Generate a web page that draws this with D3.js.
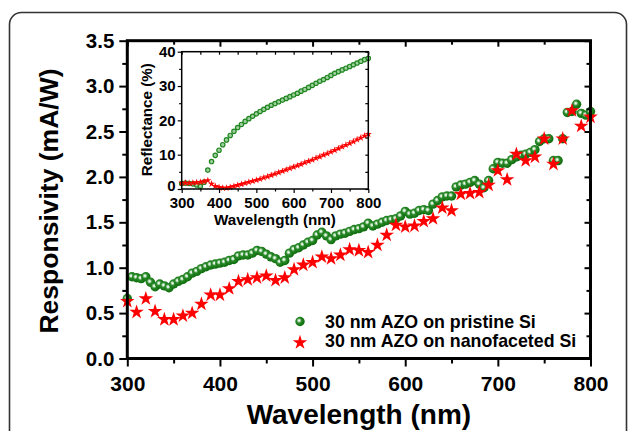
<!DOCTYPE html>
<html><head><meta charset="utf-8">
<script src="https://cdn.jsdelivr.net/npm/d3@7/dist/d3.min.js"></script>
<style>
html,body{margin:0;padding:0;background:#fff;}
svg{display:block;font-family:"Liberation Sans",Arial,sans-serif;font-weight:bold;}
</style></head><body>
<svg id="c" width="629" height="431"></svg>
<script>
// ---- main chart data ----
const pristineX = [300,305,310,315,320,325,330,335,340,345,350,355,360,365,370,375,380,385,390,395,400,405,410,415,420,425,430,435,440,445,450,455,460,465,470,475,480,485,490,495,500,505,510,515,520,525,530,535,540,545,550,555,560,565,570,575,580,585,590,595,600,605,610,615,620,625,630,635,640,645,650,655,660,665,670,675,680,685,690,695,700,705,710,715,720,725,730,735,740,745,750,755,760,765,770,775,780,785,790,795,800];
const pristineY = [0.66,0.90,0.89,0.88,0.90,0.84,0.79,0.82,0.80,0.78,0.82,0.85,0.87,0.90,0.94,0.96,0.99,1.01,1.03,1.04,1.05,1.06,1.08,1.09,1.13,1.14,1.14,1.16,1.19,1.18,1.15,1.12,1.10,1.06,1.08,1.16,1.20,1.22,1.25,1.28,1.30,1.36,1.39,1.35,1.31,1.35,1.37,1.38,1.40,1.42,1.43,1.45,1.49,1.46,1.48,1.50,1.52,1.53,1.54,1.57,1.62,1.59,1.60,1.63,1.64,1.63,1.70,1.74,1.78,1.79,1.79,1.89,1.91,1.92,1.94,1.96,1.92,1.88,1.96,2.09,2.16,2.15,2.15,2.19,2.22,2.24,2.25,2.27,2.30,2.39,2.42,2.42,2.18,2.18,2.42,2.71,2.72,2.80,2.70,2.68,2.72];
const facetX = [300,310,320,330,340,350,360,370,380,390,400,410,420,430,440,450,460,470,480,490,500,510,520,530,540,550,560,570,580,590,600,610,620,630,640,650,660,670,680,690,700,710,720,730,740,750,760,770,780,790,800];
const facetY = [0.63,0.51,0.66,0.52,0.43,0.43,0.47,0.50,0.60,0.70,0.70,0.77,0.85,0.87,0.89,0.91,0.86,0.89,0.98,1.03,1.06,1.12,1.10,1.14,1.20,1.19,1.17,1.25,1.36,1.47,1.45,1.46,1.51,1.54,1.66,1.63,1.81,1.82,1.83,1.91,2.07,1.97,2.25,2.18,2.22,2.42,2.14,2.42,2.73,2.56,2.66];
const seriesNames = ["30 nm AZO on pristine Si","30 nm AZO on nanofaceted Si"];
const xTicks = [300,400,500,600,700,800];
const yTicks = [0,0.5,1,1.5,2,2.5,3,3.5];
// ---- inset data (reflectance) ----
const insetX = [300,310,320,330,340,350,360,370,380,390,400,410,420,430,440,450,460,470,480,490,500,510,520,530,540,550,560,570,580,590,600,610,620,630,640,650,660,670,680,690,700,710,720,730,740,750,760,770,780,790,800];
const reflPristine = [1.6,1.7,1.6,1.5,1.2,0.8,2.0,5.5,8.0,9.8,11.3,12.9,14.3,15.6,16.8,17.9,18.8,19.7,20.5,21.2,21.9,22.6,23.2,23.8,24.4,24.9,25.4,25.9,26.4,26.9,27.4,27.9,28.5,29.0,29.6,30.2,30.8,31.4,31.9,32.5,33.1,33.7,34.2,34.7,35.2,35.7,36.2,36.7,37.2,37.7,38.1];
const reflFacet = [1.8,1.8,1.7,1.8,1.9,2.0,2.2,2.5,1.5,0.8,0.5,0.3,0.3,0.5,0.8,1.1,1.4,1.7,2.0,2.3,2.6,2.9,3.3,3.6,4.0,4.4,4.8,5.2,5.6,6.0,6.4,6.8,7.2,7.7,8.1,8.5,9.0,9.4,9.9,10.3,10.8,11.3,11.8,12.3,12.8,13.3,13.8,14.4,14.9,15.5,16.0];
const insetXTicks = [300,400,500,600,700,800];
const insetYTicks = [0,10,20,30,40];

const svg = d3.select("#c");
const defs = svg.append("defs");
const grad = defs.append("radialGradient").attr("id","ball").attr("cx","40%").attr("cy","40%").attr("r","62%");
grad.append("stop").attr("offset","0%").attr("stop-color","#ffffff");
grad.append("stop").attr("offset","16%").attr("stop-color","#cfeacf");
grad.append("stop").attr("offset","42%").attr("stop-color","#2a8a2a");
grad.append("stop").attr("offset","100%").attr("stop-color","#0a6a0a");

// outer rounded frame
svg.append("rect").attr("x",9.5).attr("y",12.5).attr("width",617).attr("height",460).attr("rx",12)
  .attr("fill","none").attr("stroke","#333").attr("stroke-width",1.6);

const x = d3.scaleLinear().domain([300,800]).range([127.3,590.5]);
const y = d3.scaleLinear().domain([0,3.5]).range([358.5,40.7]);

const g = svg.append("g");
g.append("g").selectAll("circle").data(pristineX.map((v,i)=>[v,pristineY[i]])).join("circle")
  .attr("cx",d=>x(d[0])).attr("cy",d=>y(d[1])).attr("r",4.7).attr("fill","url(#ball)");
const star = d3.symbol().type(d3.symbolStar).size(66);
g.append("g").selectAll("path").data(facetX.map((v,i)=>[v,facetY[i]])).join("path")
  .attr("d",star).attr("transform",d=>`translate(${x(d[0])},${y(d[1])})`).attr("fill","#ff0000");

function styleAxis(sel, fs){
  sel.select(".domain").remove();
  sel.selectAll(".tick line").attr("stroke","#000").attr("stroke-width",2);
  sel.selectAll("text").attr("font-size",fs).attr("font-weight","bold").attr("fill","#000")
     .attr("font-family","Liberation Sans, Arial, sans-serif");
}
const minorX = d3.range(350,800,100);
const minorY = d3.range(0.25,3.5,0.5);
const ax = svg.append("g").attr("transform","translate(0,358.5)")
  .call(d3.axisBottom(x).tickValues(xTicks).tickFormat(d3.format("d")).tickSize(8).tickSizeOuter(0).tickPadding(10));
styleAxis(ax,21);
svg.append("g").attr("transform","translate(0,358.5)").call(d3.axisBottom(x).tickValues(minorX).tickFormat("").tickSize(5).tickSizeOuter(0)).call(s=>styleAxis(s,0));
const ay = svg.append("g").attr("transform","translate(127.3,0)")
  .call(d3.axisLeft(y).tickValues(yTicks).tickFormat(d3.format(".1f")).tickSize(8).tickSizeOuter(0).tickPadding(5));
styleAxis(ay,20.5);
svg.append("g").attr("transform","translate(127.3,0)").call(d3.axisLeft(y).tickValues(minorY).tickFormat("").tickSize(5).tickSizeOuter(0)).call(s=>styleAxis(s,0));
svg.append("g").attr("transform","translate(0,40.7)").call(d3.axisBottom(x).tickValues(xTicks).tickFormat("").tickSize(6).tickSizeOuter(0)).call(s=>styleAxis(s,0));
svg.append("g").attr("transform","translate(0,40.7)").call(d3.axisBottom(x).tickValues(minorX).tickFormat("").tickSize(4).tickSizeOuter(0)).call(s=>styleAxis(s,0));
svg.append("g").attr("transform","translate(590.5,0)").call(d3.axisLeft(y).tickValues(yTicks).tickFormat("").tickSize(6).tickSizeOuter(0)).call(s=>styleAxis(s,0));
svg.append("g").attr("transform","translate(590.5,0)").call(d3.axisLeft(y).tickValues(minorY).tickFormat("").tickSize(4).tickSizeOuter(0)).call(s=>styleAxis(s,0));
svg.append("rect").attr("x",127.3).attr("y",40.7).attr("width",590.5-127.3).attr("height",358.5-40.7)
  .attr("fill","none").attr("stroke","#000").attr("stroke-width",3);

svg.append("text").attr("x",(127.3+590.5)/2).attr("y",424).attr("text-anchor","middle")
  .attr("font-size",28).attr("font-weight","bold").text("Wavelength (nm)");
svg.append("text").attr("transform","translate(58,201) rotate(-90)").attr("text-anchor","middle")
  .attr("font-size",26.5).attr("font-weight","bold").text("Responsivity (mA/W)");

const lg = svg.append("g");
lg.append("circle").attr("cx",300).attr("cy",321.5).attr("r",4.7).attr("fill","url(#ball)");
lg.append("path").attr("d",star).attr("transform","translate(300,342.5)").attr("fill","#ff0000");
lg.append("text").attr("x",325).attr("y",327.5).attr("font-size",17.8).text(seriesNames[0]);
lg.append("text").attr("x",325).attr("y",347).attr("font-size",17.8).text(seriesNames[1]);

// ---- inset ----
const xi = d3.scaleLinear().domain([300,800]).range([181.7,368.3]);
const yi = d3.scaleLinear().domain([0,40]).range([189,51.7]);
svg.append("rect").attr("x",181.7).attr("y",51.7).attr("width",368.3-181.7).attr("height",189-51.7).attr("fill","#fff");
const ig = svg.append("g");
ig.append("g").selectAll("circle").data(insetX.map((v,i)=>[v,reflPristine[i]])).join("circle")
  .attr("cx",d=>xi(d[0])).attr("cy",d=>yi(d[1])).attr("r",2.2)
  .attr("fill","#9fd09f").attr("stroke","#1f861f").attr("stroke-width",1.2);
const smallStar = d3.symbol().type(d3.symbolStar).size(16);
ig.append("g").selectAll("path").data(insetX.map((v,i)=>[v,reflFacet[i]])).join("path")
  .attr("d",smallStar).attr("transform",d=>`translate(${xi(d[0])},${yi(d[1])})`).attr("fill","#ff0000");
const iMinX = d3.range(350,800,100), iMinY = d3.range(5,40,10);
function istyle(s,fs){ styleAxis(s,fs); s.selectAll(".tick line").attr("stroke-width",1.2); }
const iax = svg.append("g").attr("transform","translate(0,189)")
  .call(d3.axisBottom(xi).tickValues(insetXTicks).tickFormat(d3.format("d")).tickSize(4).tickSizeOuter(0).tickPadding(4));
istyle(iax,15);
svg.append("g").attr("transform","translate(0,189)").call(d3.axisBottom(xi).tickValues(iMinX).tickFormat("").tickSize(2.5).tickSizeOuter(0)).call(s=>istyle(s,0));
const iay = svg.append("g").attr("transform","translate(181.7,0)")
  .call(d3.axisLeft(yi).tickValues(insetYTicks).tickFormat(d3.format("d")).tickSize(4).tickSizeOuter(0).tickPadding(2));
istyle(iay,15);
iay.selectAll(".tick text").filter(d=>d===0).attr("dy","0.1em");
svg.append("g").attr("transform","translate(181.7,0)").call(d3.axisLeft(yi).tickValues(iMinY).tickFormat("").tickSize(2.5).tickSizeOuter(0)).call(s=>istyle(s,0));
svg.append("g").attr("transform","translate(0,51.7)").call(d3.axisBottom(xi).tickValues(insetXTicks.concat(iMinX)).tickFormat("").tickSize(3).tickSizeOuter(0)).call(s=>istyle(s,0));
svg.append("g").attr("transform","translate(368.3,0)").call(d3.axisLeft(yi).tickValues(insetYTicks.concat(iMinY)).tickFormat("").tickSize(3).tickSizeOuter(0)).call(s=>istyle(s,0));
svg.append("rect").attr("x",181.7).attr("y",51.7).attr("width",368.3-181.7).attr("height",189-51.7)
  .attr("fill","none").attr("stroke","#000").attr("stroke-width",1.5);
svg.append("text").attr("x",(181.7+368.3)/2).attr("y",225).attr("text-anchor","middle")
  .attr("font-size",15.2).text("Wavelength (nm)");
svg.append("text").attr("transform","translate(152,119.7) rotate(-90)").attr("text-anchor","middle")
  .attr("font-size",15.2).text("Reflectance (%)");
</script>
</body></html>
